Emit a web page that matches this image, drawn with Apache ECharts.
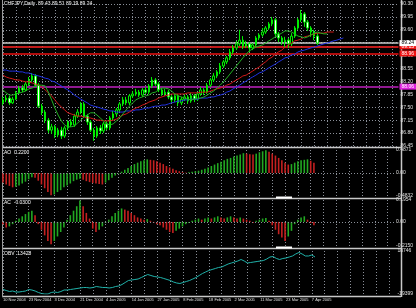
<!DOCTYPE html>
<html><head><meta charset="utf-8">
<script src="https://cdn.jsdelivr.net/npm/echarts@6/dist/echarts.min.js"></script>
<style>html,body{margin:0;padding:0;background:#000;}#c{width:416px;height:308px;}</style>
</head><body><div id="c"></div>
<script>
const titleMain = 'CHFJPY,Daily  89.43 89.51 89.19 89.24';
const titleAO = 'AO  0.2200';
const titleAC = 'AC  -0.0300';
const titleOBV = 'OBV  13428';
const dateLabels = ['10 Nov 2004','23 Nov 2004','3 Dec 2004','21 Dec 2004','4 Jan 2005','14 Jan 2005','27 Jan 2005','8 Feb 2005','18 Feb 2005','2 Mar 2005','11 Mar 2005','23 Mar 2005','7 Apr 2005'];
const slotCount = 123;
// [open, close, low, high]
const ohlc = [
[87.62,87.70,87.56,87.78],[87.70,87.75,87.64,87.83],[87.75,87.62,87.56,87.81],[87.62,87.72,87.59,87.78],
[87.72,87.89,87.70,87.94],[87.89,88.02,87.86,88.08],[88.02,87.97,87.91,88.10],[87.97,88.13,87.94,88.19],
[88.13,88.24,88.08,88.32],[88.24,88.35,88.19,88.43],[88.35,88.10,88.05,88.40],[88.10,87.53,87.48,88.16],
[87.53,87.37,87.29,87.59],[87.37,87.15,87.07,87.43],[87.15,86.88,86.80,87.21],[86.88,86.97,86.78,87.05],
[86.97,86.75,86.67,87.02],[86.75,86.88,86.69,86.94],[86.88,86.72,86.64,86.97],[86.72,86.94,86.67,86.99],
[86.94,87.10,86.88,87.15],[87.10,87.02,86.97,87.18],[87.02,87.26,86.97,87.32],[87.26,87.37,87.21,87.45],
[87.37,87.59,87.32,87.64],[87.59,87.26,87.21,87.64],[87.26,87.10,87.02,87.32],[87.10,86.88,86.83,87.15],
[86.88,86.72,86.59,86.94],[86.72,86.94,86.67,86.99],[86.94,86.86,86.78,87.02],[86.86,87.05,86.80,87.10],
[87.05,86.94,86.88,87.13],[86.94,87.21,86.88,87.26],[87.21,87.32,87.15,87.40],[87.32,87.43,87.24,87.48],
[87.43,87.59,87.37,87.64],[87.59,87.70,87.53,87.78],[87.70,87.62,87.56,87.78],[87.62,87.81,87.56,87.86],
[87.81,87.86,87.75,87.94],[87.86,87.91,87.81,88.00],[87.91,87.83,87.78,87.97],[87.83,87.97,87.78,88.02],
[87.97,87.91,87.86,88.05],[87.91,88.08,87.86,88.13],[88.08,88.24,88.02,88.32],[88.24,88.13,88.08,88.29],
[88.13,87.97,87.91,88.19],[87.97,87.86,87.81,88.02],[87.86,87.91,87.81,88.00],[87.91,87.78,87.72,87.97],
[87.78,87.70,87.62,87.83],[87.70,87.81,87.64,87.86],[87.81,87.62,87.53,87.86],[87.62,87.72,87.56,87.78],
[87.72,87.78,87.67,87.86],[87.78,87.67,87.59,87.83],[87.67,87.81,87.62,87.89],[87.81,87.72,87.64,87.86],
[87.72,87.86,87.67,87.91],[87.86,87.97,87.81,88.05],[87.97,87.91,87.83,88.02],[87.91,88.10,87.86,88.16],
[88.10,88.24,88.05,88.29],[88.24,88.35,88.19,88.43],[88.35,88.46,88.29,88.51],[88.46,88.62,88.40,88.70],
[88.62,88.73,88.57,88.78],[88.73,88.84,88.67,88.89],[88.84,89.00,88.78,89.08],[89.00,89.11,88.94,89.19],
[89.11,89.22,89.05,89.30],[89.22,89.32,89.16,89.60],[89.32,89.16,89.08,89.43],[89.16,89.22,89.11,89.30],
[89.22,89.11,89.00,89.27],[89.11,89.19,89.05,89.24],[89.19,89.38,89.13,89.43],[89.38,89.46,89.32,89.51],
[89.46,89.54,89.41,89.65],[89.54,89.65,89.49,89.70],[89.65,89.76,89.60,89.81],[89.76,89.87,89.70,89.95],
[89.87,89.49,89.41,89.92],[89.49,89.38,89.27,89.54],[89.38,89.27,89.19,89.43],[89.27,89.32,89.13,89.41],
[89.32,89.22,89.11,89.38],[89.22,89.43,89.16,89.51],[89.43,89.65,89.38,89.70],[89.65,89.87,89.60,89.92],
[89.87,90.03,89.81,90.14],[90.03,89.81,89.68,90.08],[89.81,89.65,89.57,89.87],[89.65,89.54,89.41,89.70],
[89.54,89.43,89.32,89.60],[89.43,89.24,89.19,89.51]
];
// Alligator lines (extend past last bar by their shift)
const jaw = [
88.51,88.51,88.48,88.48,88.48,88.46,88.46,88.43,88.43,88.40,
88.37,88.35,88.32,88.29,88.27,88.21,88.19,88.13,88.08,88.02,
87.97,87.91,87.83,87.78,87.72,87.67,87.62,87.56,87.53,87.51,
87.48,87.45,87.43,87.40,87.40,87.37,87.37,87.37,87.40,87.40,
87.40,87.43,87.43,87.45,87.48,87.48,87.51,87.53,87.53,87.56,
87.56,87.59,87.62,87.64,87.67,87.67,87.70,87.70,87.72,87.72,
87.72,87.75,87.75,87.75,87.78,87.78,87.81,87.83,87.86,87.91,
87.94,88.00,88.05,88.10,88.16,88.21,88.27,88.32,88.37,88.43,
88.46,88.51,88.57,88.62,88.67,88.73,88.78,88.84,88.86,88.92,
88.94,89.00,89.03,89.05,89.08,89.11,89.13,89.16,89.19,89.22,
89.24,89.27,89.30,89.32,89.35,89.38];
const teeth = [
88.37,88.32,88.29,88.27,88.24,88.24,88.21,88.19,88.19,88.16,
88.13,88.10,88.05,87.97,87.89,87.81,87.70,87.59,87.51,87.43,
87.35,87.32,87.29,87.26,87.26,87.24,87.21,87.21,87.18,87.15,
87.15,87.13,87.13,87.13,87.15,87.18,87.24,87.29,87.32,87.37,
87.43,87.48,87.51,87.56,87.59,87.64,87.67,87.70,87.75,87.78,
87.81,87.83,87.86,87.86,87.86,87.86,87.86,87.89,87.89,87.89,
87.89,87.91,87.91,87.91,87.94,87.97,88.00,88.02,88.05,88.10,
88.13,88.19,88.24,88.29,88.35,88.37,88.43,88.48,88.54,88.59,
88.67,88.73,88.81,88.86,88.94,89.00,89.05,89.13,89.19,89.24,
89.30,89.32,89.35,89.41,89.43,89.46,89.49,89.51,89.51,89.51,
89.54,89.54,89.54];
const lips = [
87.97,87.89,87.83,87.83,87.86,87.89,87.91,87.94,88.00,88.02,
88.08,88.10,88.10,88.08,87.91,87.70,87.48,87.29,87.13,87.02,
86.97,86.97,86.99,87.07,87.15,87.24,87.29,87.35,87.35,87.29,
87.21,87.13,87.05,87.02,87.05,87.13,87.21,87.32,87.43,87.53,
87.62,87.70,87.75,87.78,87.81,87.83,87.89,87.91,87.97,88.02,
88.02,88.00,87.94,87.86,87.81,87.78,87.75,87.72,87.70,87.72,
87.75,87.75,87.78,87.83,87.89,87.94,88.02,88.10,88.19,88.29,
88.40,88.51,88.62,88.73,88.84,88.94,89.03,89.08,89.13,89.16,
89.19,89.24,89.30,89.35,89.41,89.46,89.51,89.57,89.57,89.54,
89.49,89.43,89.41,89.38,89.41,89.46,89.51,89.54,89.51,89.49,
89.49];
const ao = [
-0.20,-0.24,-0.27,-0.30,-0.29,-0.26,-0.22,-0.18,-0.13,-0.09,
-0.10,-0.16,-0.24,-0.32,-0.40,-0.47,-0.45,-0.40,-0.36,-0.30,
-0.26,-0.22,-0.17,-0.14,-0.12,-0.14,-0.17,-0.19,-0.21,-0.22,
-0.23,-0.24,-0.20,-0.15,-0.10,-0.05,-0.01,0.03,0.07,0.11,
0.15,0.19,0.22,0.25,0.27,0.29,0.28,0.27,0.25,0.22,
0.19,0.15,0.12,0.09,0.06,0.04,0.02,0.01,0.02,0.03,
0.04,0.05,0.07,0.09,0.12,0.15,0.18,0.21,0.24,0.27,
0.30,0.32,0.35,0.37,0.39,0.42,0.41,0.40,0.39,0.41,
0.44,0.46,0.48,0.45,0.41,0.37,0.32,0.27,0.22,0.18,
0.19,0.22,0.25,0.27,0.28,0.29,0.26,0.22];
const ac = [
-0.02,-0.05,-0.04,-0.02,0.01,0.03,0.05,0.07,0.09,0.10,
0.06,-0.02,-0.07,-0.12,-0.17,-0.20,-0.17,-0.13,-0.09,-0.05,
0.02,0.06,0.10,0.14,0.19,0.14,0.08,0.03,-0.06,-0.09,
-0.07,-0.04,-0.01,0.02,0.05,0.08,0.10,0.12,0.11,0.10,
0.08,0.06,0.04,0.03,0.02,0.025,0.01,-0.01,-0.02,-0.03,
-0.05,-0.07,-0.09,-0.10,-0.08,-0.06,-0.04,-0.02,-0.01,0.01,
0.02,0.03,0.02,0.03,0.04,0.03,0.04,0.05,0.04,0.03,
0.04,0.05,0.04,0.03,0.04,0.03,0.02,0.01,-0.01,0.01,
0.02,0.03,0.035,0.01,-0.03,-0.07,-0.11,-0.14,-0.17,-0.13,
-0.08,-0.02,0.02,0.04,0.05,0.02,-0.01,-0.03];
const obv = [
-15407,-16294,-17181,-16738,-17625,-17625,-17181,-16738,-15407,-15851,
-16738,-18068,-18955,-19399,-19399,-18068,-17625,-18068,-17181,-15851,
-15851,-15407,-14964,-14520,-14076,-13633,-13633,-14076,-13633,-12746,
-13189,-13633,-13633,-14076,-13633,-12746,-12302,-10972,-9197,-7423,
-6980,-6536,-6093,-4762,-3431,-2101,-2988,-3875,-4318,-4762,
-5649,-6536,-7423,-8754,-9641,-10085,-9197,-8310,-7423,-6093,
-4762,-2988,-1214,118,1448,2335,3222,4109,4553,5883,
7214,8101,8988,9875,11206,9875,8101,8545,8988,9432,
9875,10319,11650,13428,13867,12093,11206,12093,12537,13428,
14311,16085,17416,16085,14311,14311,15198,13428];
const priceScale = {min: 86.45, max: 90.30, step: 0.35};
const aoScale = {min: -0.4832, max: 0.4871};
const acScale = {min: -0.2150, max: 0.1954};
const obvScale = {min: -19399, max: 18746};
const levelBid = 89.24;
const levelRed = [89.15, 88.96];
const levelMagenta = 88.06;

const cats = Array.from({length: slotCount}, (_, i) => String(i));
const FONT = 'Liberation Sans';
const gridDash = {color: '#8a8f98', type: [1, 2], width: 1};
const GREEN = '#22a822', RED = '#c42020';

function colorBars(arr) {
  return arr.map((v, i) => ({value: v, itemStyle: {color: (i > 0 && v > arr[i - 1]) ? GREEN : RED}}));
}
function xAx(idx, showLabels) {
  return {
    type: 'category', gridIndex: idx, data: cats, boundaryGap: false,
    axisLine: {show: false}, axisTick: {show: false},
    axisLabel: showLabels ? {
      show: true, color: '#e0e0e0', fontSize: 4, fontFamily: FONT, align: 'left', margin: 4,
      hideOverlap: false, showMinLabel: true, showMaxLabel: true, interval: 0,
      formatter: (v) => {
        const n = Number(v);
        return (n % 8 === 0 && dateLabels[n / 8]) ? dateLabels[n / 8] : '';
      }
    } : {show: false},
    splitLine: {show: true, interval: (i) => i % 4 === 0, lineStyle: gridDash}
  };
}
function subY(idx, sc, fmt) {
  return {
    type: 'value', gridIndex: idx, position: 'right', min: sc.min, max: sc.max, scale: true,
    axisLine: {show: false}, axisTick: {show: false}, splitLine: {show: false},
    axisLabel: {show: true, color: '#e0e0e0', fontSize: 5, fontFamily: FONT, margin: 2,
      customValues: fmt.vals, formatter: fmt.f}
  };
}
const zeroLine = {symbol: 'none', silent: true, label: {show: false}, lineStyle: gridDash, data: [{yAxis: 0}]};
function levelLine(v, color, width, boxBg, boxText) {
  return {yAxis: v, lineStyle: {color: color, width: width, type: 'solid'},
    label: {show: true, position: 'end', distance: 1, formatter: v.toFixed(2), fontSize: 5, fontFamily: FONT,
      color: boxText, backgroundColor: boxBg, padding: [1, 2, 0, 2]}};
}

const chart = echarts.init(document.getElementById('c'), null, {renderer: 'canvas'});
const sepStyle = {stroke: '#c8c8c8', lineWidth: 1.5};
chart.setOption({
  backgroundColor: '#000',
  animation: false,
  grid: [
    {left: 3, top: 4, width: 398, height: 142},
    {left: 3, top: 150, width: 398, height: 46},
    {left: 3, top: 200, width: 398, height: 46},
    {left: 3, top: 251, width: 398, height: 43}
  ],
  xAxis: [xAx(0, false), xAx(1, false), xAx(2, false), xAx(3, true)],
  yAxis: [
    {type: 'value', gridIndex: 0, position: 'right', min: priceScale.min, max: priceScale.max, interval: priceScale.step,
      axisLine: {show: false}, axisTick: {show: false},
      axisLabel: {color: '#e0e0e0', fontSize: 5, fontFamily: FONT, margin: 2, formatter: (v) => v.toFixed(2)},
      splitLine: {show: true, lineStyle: gridDash}},
    subY(1, aoScale, {vals: [aoScale.min, 0, aoScale.max], f: (v) => Math.abs(v) < 1e-9 ? '0.00' : v.toFixed(4)}),
    subY(2, acScale, {vals: [acScale.min, 0, acScale.max], f: (v) => Math.abs(v) < 1e-9 ? '0.00' : v.toFixed(4)}),
    subY(3, obvScale, {vals: [obvScale.min, obvScale.max], f: (v) => String(Math.round(v))})
  ],
  series: [
    {type: 'candlestick', xAxisIndex: 0, yAxisIndex: 0, data: ohlc, barWidth: 2,
      itemStyle: {color: '#000', color0: '#ffffff', borderColor: '#00ee00', borderColor0: '#00ee00', borderWidth: 1},
      markLine: {symbol: 'none', silent: true, animation: false, z: 1,
        data: [
          levelLine(levelRed[0], '#ff2222', 1.5, '#ee1111', '#fff'),
          levelLine(levelRed[1], '#ee1111', 1.5, '#ee1111', '#fff'),
          levelLine(levelMagenta, '#c020c0', 1.5, '#dd22dd', '#fff'),
          levelLine(levelBid, '#c8c8c8', 1.5, '#ffffff', '#000')
        ]}},
    {type: 'line', xAxisIndex: 0, yAxisIndex: 0, data: jaw, showSymbol: false, z: 5,
      lineStyle: {color: '#2030e0', width: 1}},
    {type: 'line', xAxisIndex: 0, yAxisIndex: 0, data: teeth, showSymbol: false, z: 5,
      lineStyle: {color: '#d01818', width: 1}},
    {type: 'line', xAxisIndex: 0, yAxisIndex: 0, data: lips, showSymbol: false, z: 5,
      lineStyle: {color: '#22b022', width: 1}},
    {type: 'bar', xAxisIndex: 1, yAxisIndex: 1, data: colorBars(ao), barWidth: 1.6, markLine: zeroLine},
    {type: 'bar', xAxisIndex: 2, yAxisIndex: 2, data: colorBars(ac), barWidth: 1.6, markLine: zeroLine},
    {type: 'line', xAxisIndex: 3, yAxisIndex: 3, data: obv, showSymbol: false,
      lineStyle: {color: '#20b2aa', width: 1}}
  ],
  graphic: [
    {type: 'text', left: 4, top: 1, style: {text: titleMain, fill: '#ffffff', fontSize: 5, fontFamily: FONT}},
    {type: 'text', left: 4, top: 150, style: {text: titleAO, fill: '#ffffff', fontSize: 5, fontFamily: FONT}},
    {type: 'text', left: 4, top: 200, style: {text: titleAC, fill: '#ffffff', fontSize: 5, fontFamily: FONT}},
    {type: 'text', left: 4, top: 251, style: {text: titleOBV, fill: '#ffffff', fontSize: 5, fontFamily: FONT}},
    {type: 'line', shape: {x1: 2, y1: 147.5, x2: 401, y2: 147.5}, style: sepStyle},
    {type: 'line', shape: {x1: 2, y1: 198.5, x2: 401, y2: 198.5}, style: sepStyle},
    {type: 'line', shape: {x1: 2, y1: 248.5, x2: 401, y2: 248.5}, style: sepStyle},
    {type: 'line', shape: {x1: 2, y1: 296.5, x2: 401, y2: 296.5}, style: sepStyle},
    {type: 'line', shape: {x1: 401.5, y1: 0, x2: 401.5, y2: 297}, style: sepStyle},
    {type: 'line', shape: {x1: 2.5, y1: 0, x2: 2.5, y2: 297}, style: {stroke: '#9a9a9a', lineWidth: 1}},
    {type: 'line', shape: {x1: 276, y1: 197.5, x2: 292, y2: 197.5}, style: {stroke: '#ffffff', lineWidth: 2}},
    {type: 'line', shape: {x1: 276, y1: 247.5, x2: 292, y2: 247.5}, style: {stroke: '#ffffff', lineWidth: 2}}
  ]
});
</script>
</body></html>
